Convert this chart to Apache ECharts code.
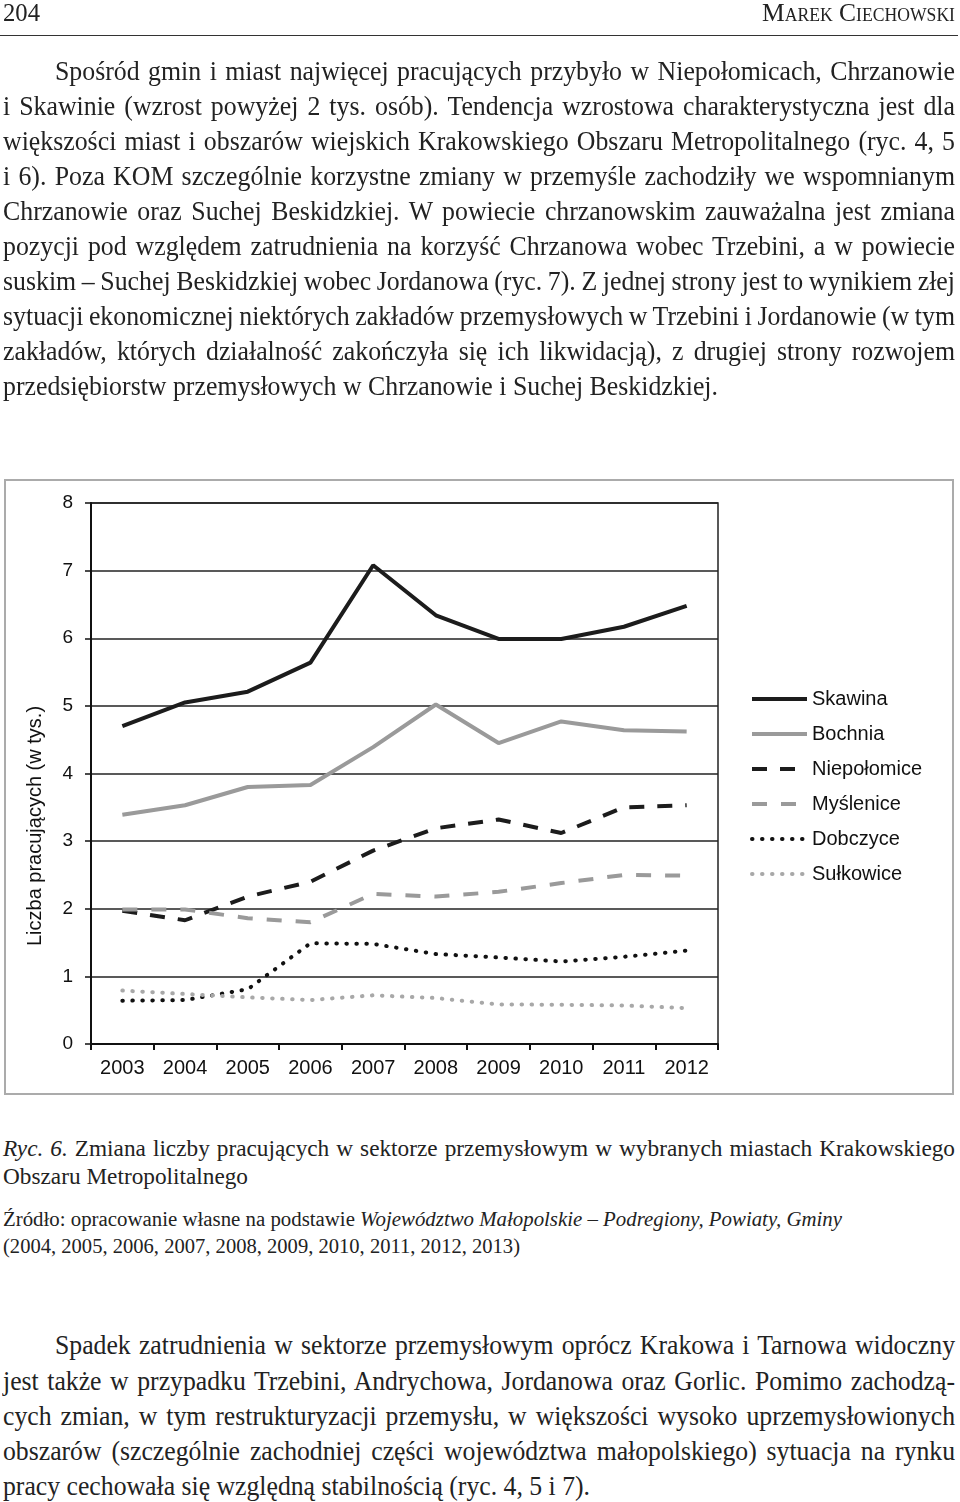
<!DOCTYPE html>
<html>
<head>
<meta charset="utf-8">
<script src="https://cdn.jsdelivr.net/npm/echarts@6/dist/echarts.min.js"></script>
<style>
html,body{margin:0;padding:0;background:#fff;}
body{width:960px;height:1502px;position:relative;overflow:hidden;}
#chart{position:absolute;left:0;top:0;width:960px;height:1110px;}
#box{position:absolute;left:4px;top:479px;width:950px;height:616px;border:2px solid #ababab;box-sizing:border-box;}
.ln{position:absolute;white-space:nowrap;transform-origin:0 0;font-family:"Liberation Serif","Times New Roman",serif;color:#222;}
.h{font-size:26px;line-height:26px;}
.b{font-size:27px;line-height:27px;}
.c{font-size:23px;line-height:23px;}
.s{font-size:20px;line-height:20px;}
.sc{font-variant:small-caps;}
#rule{position:absolute;left:0;top:35px;width:958px;height:0;border-top:1px solid #333;}
</style>
</head>
<body>
<div id="box"></div>
<div id="chart"></div>
<div id="rule"></div>

<div class="par">
<div class="ln h ref" data-l="3" data-r="40" data-y="0">204</div>
</div>
<div class="par">
<div class="ln h sc ref" data-l="762" data-r="955" data-y="0">Marek Ciechowski</div>
</div>

<div class="par">
<div class="ln b j" data-l="55" data-r="955" data-y="58">Spośród gmin i miast najwięcej pracujących przybyło w Niepołomicach, Chrzanowie</div>
<div class="ln b j" data-l="3" data-r="955" data-y="93">i Skawinie (wzrost powyżej 2 tys. osób). Tendencja wzrostowa charakterystyczna jest dla</div>
<div class="ln b j" data-l="3" data-r="955" data-y="128">większości miast i obszarów wiejskich Krakowskiego Obszaru Metropolitalnego (ryc. 4, 5</div>
<div class="ln b j" data-l="3" data-r="955" data-y="163">i 6). Poza KOM szczególnie korzystne zmiany w przemyśle zachodziły we wspomnianym</div>
<div class="ln b j" data-l="3" data-r="955" data-y="198">Chrzanowie oraz Suchej Beskidzkiej. W powiecie chrzanowskim zauważalna jest zmiana</div>
<div class="ln b j" data-l="3" data-r="955" data-y="233">pozycji pod względem zatrudnienia na korzyść Chrzanowa wobec Trzebini, a w powiecie</div>
<div class="ln b j" data-l="3" data-r="955" data-y="268">suskim – Suchej Beskidzkiej wobec Jordanowa (ryc. 7). Z jednej strony jest to wynikiem złej</div>
<div class="ln b j" data-l="3" data-r="955" data-y="303">sytuacji ekonomicznej niektórych zakładów przemysłowych w Trzebini i Jordanowie (w tym</div>
<div class="ln b j" data-l="3" data-r="955" data-y="338">zakładów, których działalność zakończyła się ich likwidacją), z drugiej strony rozwojem</div>
<div class="ln b ref" data-l="3" data-r="718" data-y="373">przedsiębiorstw przemysłowych w Chrzanowie i Suchej Beskidzkiej.</div>
</div>

<div class="par">
<div class="ln c j" data-l="3" data-r="955" data-y="1137"><i>Ryc. 6.</i> Zmiana liczby pracujących w sektorze przemysłowym w wybranych miastach Krakowskiego</div>
<div class="ln c ref" data-l="3" data-r="248" data-y="1165">Obszaru Metropolitalnego</div>
</div>

<div class="par">
<div class="ln s" data-l="3" data-r="842" data-y="1209">Źródło: opracowanie własne na podstawie <i>Województwo Małopolskie – Podregiony, Powiaty, Gminy</i></div>
<div class="ln s ref" data-l="3" data-r="520" data-y="1236">(2004, 2005, 2006, 2007, 2008, 2009, 2010, 2011, 2012, 2013)</div>
</div>

<div class="par">
<div class="ln b j" data-l="55" data-r="955" data-y="1332">Spadek zatrudnienia w sektorze przemysłowym oprócz Krakowa i Tarnowa widoczny</div>
<div class="ln b j" data-l="3" data-r="955" data-y="1368">jest także w przypadku Trzebini, Andrychowa, Jordanowa oraz Gorlic. Pomimo zachodzą-</div>
<div class="ln b j" data-l="3" data-r="955" data-y="1403">cych zmian, w tym restrukturyzacji przemysłu, w większości wysoko uprzemysłowionych</div>
<div class="ln b j" data-l="3" data-r="955" data-y="1438">obszarów (szczególnie zachodniej części województwa małopolskiego) sytuacja na rynku</div>
<div class="ln b ref" data-l="3" data-r="590" data-y="1473">pracy cechowała się względną stabilnością (ryc. 4, 5 i 7).</div>
</div>

<script>
// ---- data ----
const years = ['2003','2004','2005','2006','2007','2008','2009','2010','2011','2012'];
const skawina     = [4.70, 5.05, 5.21, 5.64, 7.08, 6.34, 5.99, 5.99, 6.17, 6.48];
const bochnia     = [3.39, 3.53, 3.80, 3.83, 4.39, 5.02, 4.45, 4.77, 4.64, 4.62];
const niepolomice = [1.97, 1.83, 2.18, 2.40, 2.86, 3.19, 3.32, 3.12, 3.50, 3.53];
const myslenice   = [1.99, 1.99, 1.86, 1.80, 2.22, 2.18, 2.25, 2.38, 2.50, 2.49];
const dobczyce    = [0.64, 0.65, 0.81, 1.49, 1.48, 1.33, 1.28, 1.22, 1.29, 1.38];
const sulkowice   = [0.79, 0.74, 0.69, 0.65, 0.72, 0.68, 0.585, 0.58, 0.57, 0.53];
const seriesNames = ['Skawina','Bochnia','Niepołomice','Myślenice','Dobczyce','Sułkowice'];
const yAxisName = 'Liczba pracujących (w tys.)';

// ---- text layout (line fitting) ----
document.querySelectorAll('.par').forEach(p => {
  const lines = [...p.querySelectorAll('.ln')];
  const ref = lines.find(e => e.classList.contains('ref')) || lines[0];
  const rw = ref.getBoundingClientRect().width;
  const ps = (+ref.dataset.r - +ref.dataset.l) / rw;
  lines.forEach(el => {
    const l = +el.dataset.l, r = +el.dataset.r;
    el.style.left = l + 'px';
    el.style.top = el.dataset.y + 'px';
    const w = el.getBoundingClientRect().width;
    let s;
    if (el.classList.contains('j')) {
      s = ps;
      const n = (el.textContent.match(/ /g) || []).length;
      el.style.wordSpacing = (((r - l) / s - w) / n) + 'px';
    } else {
      s = (r - l) / w;
    }
    el.style.transform = 'scaleX(' + s + ')';
  });
});

// ---- chart ----
const FONT = '"Liberation Sans", Arial, sans-serif';
const DARK = '#1c1c1c', GREY = '#9a9a9a', LGREY = '#a8a8a8';
const styles = [
  {color: DARK, width: 4, type: 'solid', cap: 'butt'},
  {color: GREY, width: 4, type: 'solid', cap: 'butt'},
  {color: DARK, width: 4, type: [15, 13], cap: 'butt'},
  {color: GREY, width: 4, type: [15, 14], cap: 'butt'},
  {color: '#111', width: 4, type: [0.5, 9.5], cap: 'round'},
  {color: LGREY, width: 4, type: [0.5, 9.5], cap: 'round'}
];
const values = [skawina, bochnia, niepolomice, myslenice, dobczyce, sulkowice];

const chart = echarts.init(document.getElementById('chart'), null, {renderer: 'canvas'});
chart.setOption({
  animation: false,
  grid: {left: 91, right: 242, top: 503, bottom: 66, show: true, borderColor: '#222', borderWidth: 1.5, backgroundColor: 'transparent'},
  legend: {
    orient: 'vertical', left: 745, top: 684,
    itemWidth: 55, itemHeight: 14, itemGap: 15,
    itemStyle: {opacity: 0},
    textStyle: {fontSize: 20, lineHeight: 20, color: '#111', fontFamily: FONT},
    data: seriesNames.map((n, i) => ({name: n, lineStyle: {width: 4, type: styles[i].type, cap: styles[i].cap, color: styles[i].color}}))
  },
  xAxis: {
    type: 'category', data: years, boundaryGap: true,
    axisLine: {lineStyle: {color: '#111', width: 2}},
    axisTick: {show: true, length: 6, inside: false, alignWithLabel: false, lineStyle: {color: '#111', width: 2}},
    axisLabel: {fontSize: 20, color: '#111', fontFamily: FONT, margin: 14, interval: 0}
  },
  yAxis: {
    type: 'value', min: 0, max: 8, interval: 1,
    name: yAxisName, nameLocation: 'middle', nameGap: 46,
    nameTextStyle: {fontSize: 20, color: '#111', fontFamily: FONT, padding: [0, 105, 0, 0]},
    axisLine: {show: true, lineStyle: {color: '#111', width: 2}},
    axisTick: {show: true, length: 6, lineStyle: {color: '#111', width: 1.5}},
    axisLabel: {fontSize: 19, color: '#111', fontFamily: FONT, margin: 18},
    splitLine: {show: true, lineStyle: {color: '#222', width: 1.5}}
  },
  series: values.map((v, i) => ({
    name: seriesNames[i], type: 'line', data: v, symbol: 'none', smooth: false,
    lineStyle: styles[i], itemStyle: {color: styles[i].color}
  }))
});
</script>
</body>
</html>
